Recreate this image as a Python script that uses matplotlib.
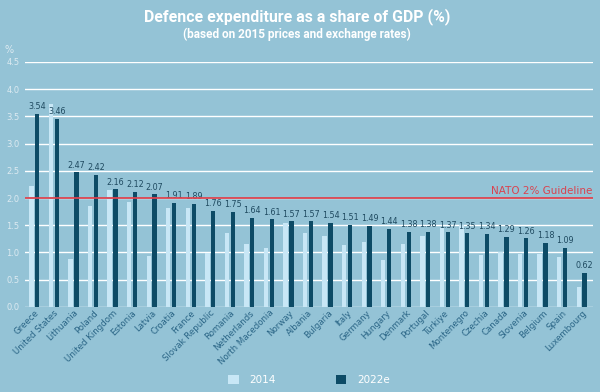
"""Defence expenditure as a share of GDP, NATO members 2014 vs 2022e."""
import matplotlib
matplotlib.use('Agg')
import matplotlib.pyplot as plt
import numpy as np

matplotlib.rcParams['font.family'] = 'DejaVu Sans'

countries = ['Greece', 'United States', 'Lithuania', 'Poland', 'United Kingdom',
             'Estonia', 'Latvia', 'Croatia', 'France', 'Slovak Republic',
             'Romania', 'Netherlands', 'North Macedonia', 'Norway', 'Albania',
             'Bulgaria', 'Italy', 'Germany', 'Hungary', 'Denmark', 'Portugal',
             'Türkiye', 'Montenegro', 'Czechia', 'Canada', 'Slovenia',
             'Belgium', 'Spain', 'Luxembourg']
share_2014 = [2.22, 3.72, 0.88, 1.86, 2.14, 1.92, 0.93, 1.82, 1.82, 0.99,
              1.35, 1.15, 1.09, 1.55, 1.35, 1.31, 1.14, 1.19, 0.86, 1.15,
              1.31, 1.45, 1.50, 0.95, 1.01, 0.97, 0.97, 0.92, 0.37]
share_2022 = [3.54, 3.46, 2.47, 2.42, 2.16, 2.12, 2.07, 1.91, 1.89, 1.76,
              1.75, 1.64, 1.61, 1.57, 1.57, 1.54, 1.51, 1.49, 1.44, 1.38,
              1.38, 1.37, 1.35, 1.34, 1.29, 1.26, 1.18, 1.09, 0.62]
guideline = 2.0

bg = '#94c3d6'
light = '#c8e7f6'
dark = '#0d4b66'
red = '#d9434f'
txt = '#1f4a60'

fig = plt.figure(figsize=(6.0, 3.92), dpi=100, facecolor=bg)
ax = fig.add_axes([0.042, 0.217, 0.946, 0.625], facecolor=bg)

x = np.arange(len(countries))
w = 0.22
ax.bar(x - 0.15, share_2014, w, color=light, label='2014', zorder=3)
ax.bar(x + 0.15, share_2022, w, color=dark, label='2022e', zorder=3)

for xi, v in zip(x, share_2022):
    ax.text(xi + 0.15, v + 0.05, f'{v:.2f}', ha='center', va='bottom',
            fontsize=5.8, color=txt, zorder=4)

ax.axhline(guideline, color=red, linewidth=1.3, zorder=4)
ax.text(28.55, guideline + 0.04, 'NATO 2% Guideline', ha='right', va='bottom',
        fontsize=7.5, color=red)

ax.set_xlim(-0.47, 28.57)
ax.set_ylim(0, 4.5)
ax.set_yticks(np.arange(0, 4.51, 0.5))
ax.set_yticklabels([f'{t:.1f}' for t in np.arange(0, 4.51, 0.5)],
                   fontsize=6, color='#dceaf1')
ax.grid(axis='y', color='white', linewidth=1.0, zorder=1)
ax.tick_params(axis='y', length=0, pad=4)
ax.tick_params(axis='x', length=0, pad=1)
ax.set_xticks(x)
ax.set_xticklabels(countries, rotation=45, ha='right', rotation_mode='anchor',
                   fontsize=6.2, color='#2a6586')
for s in ax.spines.values():
    s.set_visible(False)

fig.text(0.008, 0.865, '%', fontsize=7, color='#dceaf1')
fig.text(0.495, 0.957, 'Defence expenditure as a share of GDP (%)', ha='center',
         va='center', fontsize=11.4, fontweight='bold', color='white',
         family='Roboto')
fig.text(0.495, 0.913, '(based on 2015 prices and exchange rates)', ha='center',
         va='center', fontsize=8.5, fontweight='bold', color='white',
         family='Roboto')

leg = fig.legend(loc='center', bbox_to_anchor=(0.515, 0.03), ncol=2, frameon=False,
                 fontsize=7.5, handlelength=1.0, handleheight=1.0,
                 columnspacing=5.8, handletextpad=1.0)
for t in leg.get_texts():
    t.set_color('white')

plt.savefig('out.png', dpi=100, facecolor=bg)
